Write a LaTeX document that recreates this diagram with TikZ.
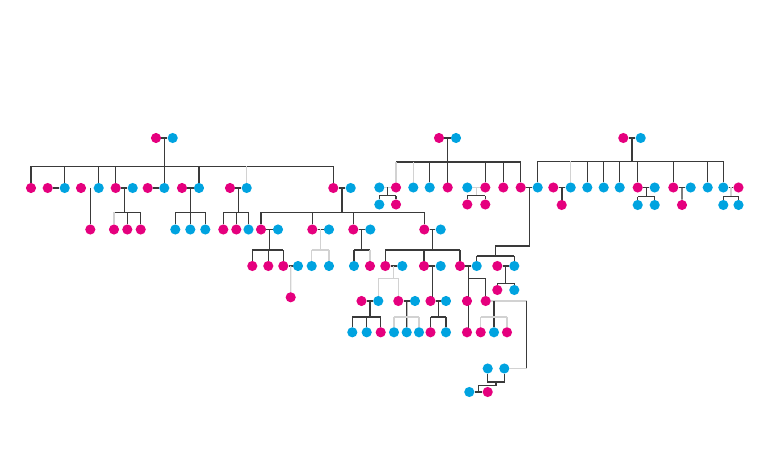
\documentclass[tikz,border=0pt]{standalone}
\usetikzlibrary{calc,backgrounds}
\definecolor{pinkc}{HTML}{E5007E}
\definecolor{bluec}{HTML}{00A3E0}
\definecolor{lnd}{HTML}{3A3A3A}
\definecolor{lnl}{HTML}{D2D2D2}
\tikzset{
  pk/.style={circle,fill=pinkc,draw=none,inner sep=0pt,minimum size=7.6pt},
  bl/.style={circle,fill=bluec,draw=none,inner sep=0pt,minimum size=7.6pt},
  dk/.style={draw=lnd,line width=0.95pt},
  lt/.style={draw=lnl,line width=0.95pt}
}
\newcommand\pd[3]{\node[pk] (#1) at (#2,#3) {};}
\newcommand\bd[3]{\node[bl] (#1) at (#2,#3) {};}
\newcommand\midpt[3]{\coordinate (#1) at ($(#2)!.5!(#3)$);}
\begin{document}
\begin{tikzpicture}[x=0.75pt,y=-0.75pt]
\useasboundingbox (0,0) rectangle (768,473);
% ---------- family A ----------
\pd{a0}{156}{138} \bd{a1}{172.7}{138}
\pd{L1}{31}{188}
\pd{L2}{47.7}{188} \bd{L3}{64.7}{188}
\pd{L4}{81}{188} \bd{L5}{98.7}{188}
\pd{L6}{115.7}{188} \bd{L7}{132.7}{188}
\pd{L8}{147.7}{188} \bd{L9}{164.3}{188}
\pd{L10}{182}{188} \bd{L11}{199}{188}
\pd{L12}{230}{188} \bd{L13}{246.7}{188}
\pd{L14}{333.3}{188} \bd{L15}{350.7}{188}
\pd{K1}{90.3}{229.5}
\pd{K2}{114}{229.5} \pd{K3}{127.3}{229.5} \pd{K4}{140.7}{229.5}
\bd{K5}{175.3}{229.5} \bd{K6}{190.3}{229.5} \bd{K7}{205.3}{229.5}
\pd{K8}{223.3}{229.5} \pd{K9}{236.3}{229.5} \bd{K10}{248.5}{229.5}
\pd{M1}{261}{229.5} \bd{M1s}{278}{229.5}
\pd{M2}{312.3}{229.5} \bd{M2s}{329}{229.5}
\pd{M3}{353.3}{229.5} \bd{M3s}{370.3}{229.5}
\pd{M4}{424.3}{229.5} \bd{M4s}{440.7}{229.5}
\pd{N1}{252.3}{266} \pd{N2}{268.3}{266} \pd{N3}{283.3}{266} \bd{N3s}{298}{266}
\bd{N4}{311.7}{266} \bd{N5}{329}{266}
\bd{N6}{354}{266} \pd{N7}{370}{266}
\pd{N8}{385.3}{266} \bd{N8s}{402.3}{266}
\pd{N9}{424}{266} \bd{N9s}{440.7}{266}
\pd{N10}{460}{266} \bd{N10s}{476.7}{266}
\pd{N11s}{497.3}{266} \bd{N11}{514.3}{266}
\pd{O1}{290.7}{297.3}
\pd{P1s}{361.5}{301} \bd{P1}{378.3}{301}
\pd{P2}{398.3}{301} \bd{P2s}{415}{301}
\pd{P3}{430.5}{301} \bd{P3s}{446}{301}
\pd{P4}{467}{301} \pd{P5}{485.7}{301}
\pd{P6}{497.3}{290} \bd{P7}{514.3}{290}
\bd{S1}{352.3}{332.3} \bd{S2}{366.7}{332.3} \pd{S3}{380.7}{332.3}
\bd{S4}{394}{332.3} \bd{S5}{406.7}{332.3} \bd{S6}{419}{332.3}
\pd{S7}{430.5}{332.3} \bd{S8}{446}{332.3}
\pd{S9}{467}{332.3}
\pd{S10}{480.7}{332.3} \bd{S11}{494}{332.3} \pd{S12}{507}{332.3}
\bd{Q1}{487.7}{368.5} \bd{Q2}{504.3}{368.5}
\bd{R1}{469.3}{392} \pd{R2}{487.7}{392}
% ---------- family B ----------
\pd{b0}{439}{138} \bd{b1}{456}{138}
\bd{B1}{379.3}{187.5} \pd{B2}{396}{187.5} \bd{B3}{413.3}{187.5} \bd{B4}{429.7}{187.5}
\pd{B5}{447.7}{187.5} \bd{B6}{467.3}{187.5} \pd{B7}{485.3}{187.5} \pd{B8}{503.3}{187.5}
\pd{B9}{520.7}{187.5}
\bd{T1}{379.3}{204.5} \pd{T2}{396}{204.5} \pd{T3}{467.3}{204.5} \pd{T4}{485.3}{204.5}
% ---------- family C ----------
\pd{c0}{623.3}{138} \bd{c1}{640.7}{138}
\bd{C1}{537.7}{187.5} \pd{C2}{553.3}{187.5} \bd{C3}{570.7}{187.5} \bd{C4}{587.3}{187.5}
\bd{C5}{603.7}{187.5} \bd{C6}{619.7}{187.5} \pd{C7}{637.7}{187.5} \bd{C8}{654.7}{187.5}
\pd{C9}{673.3}{187.5} \bd{C10}{690.7}{187.5} \bd{C11}{707.7}{187.5}
\bd{C12}{723.3}{187.5} \pd{C13}{738.5}{187.5}
\pd{U1}{561.7}{205} \bd{U2}{637.7}{205} \bd{U3}{654.7}{205} \pd{U4}{682}{205}
\bd{U5}{723.3}{205} \bd{U6}{738.5}{205}
% ---------- bar levels ----------
\coordinate (yA) at (0,166.3);
\coordinate (yB) at (0,212.3);
\coordinate (yC) at (0,250);
\coordinate (yD) at (0,278.3);
\coordinate (yD2) at (0,283.3);
\coordinate (yE) at (0,317);
\coordinate (yF) at (0,382);
\coordinate (yG) at (0,385.5);
\coordinate (yH) at (0,162);
\coordinate (yI) at (0,195.7);
\coordinate (yJ) at (0,246);
\coordinate (yK) at (0,256);
\coordinate (yL) at (0,161.5);
\coordinate (yM) at (0,196.7);
\coordinate (k1) at (526.5,301);
\begin{pgfonlayer}{background}
% family A
\midpt{ma}{a0}{a1}
\draw[dk] (a0) -- (a1); \draw[dk] (ma) -- (ma |- L9);
\draw[dk] (L1 |- yA) -- (L14 |- yA);
\foreach \n in {L1,L3,L5,L6,L11,L14} \draw[dk] (\n) -- (\n |- yA);
\draw[lt] (L13) -- (L13 |- yA);
\foreach \a/\b in {L2/L3,L6/L7,L8/L9,L10/L11,L12/L13,L14/L15,M1/M1s,M2/M2s,M3/M3s,M4/M4s,N3/N3s,N8/N8s,N9/N9s,N10/N10s,N11s/N11,P1s/P1,P2/P2s,P3/P3s,R1/R2,B9/C1,b0/b1,c0/c1,C2/C3,C7/C8,C9/C10,C12/C13}
  \draw[dk] (\a) -- (\b);
\draw[dk] (K1 |- L4) -- (K1);
% L6/L7
\midpt{m67}{L6}{L7}
\draw[dk] (m67) -- (m67 |- yB); \draw[dk] (K2 |- yB) -- (K4 |- yB);
\draw[lt] (K2) -- (K2 |- yB); \draw[dk] (K3) -- (K3 |- yB); \draw[dk] (K4) -- (K4 |- yB);
% L10/L11
\midpt{m1011}{L10}{L11}
\draw[dk] (m1011) -- (m1011 |- yB); \draw[dk] (K5 |- yB) -- (K7 |- yB);
\foreach \n in {K5,K6,K7} \draw[dk] (\n) -- (\n |- yB);
% L12/L13
\midpt{m1213}{L12}{L13}
\draw[dk] (m1213) -- (m1213 |- yB); \draw[dk] (K8 |- yB) -- (K10 |- yB);
\foreach \n in {K8,K9,K10} \draw[dk] (\n) -- (\n |- yB);
% L14/L15
\midpt{m1415}{L14}{L15}
\draw[dk] (m1415) -- (m1415 |- yB); \draw[dk] (M1 |- yB) -- (M4 |- yB);
\foreach \n in {M1,M2,M3,M4} \draw[dk] (\n) -- (\n |- yB);
% M1
\midpt{mM1}{M1}{M1s}
\draw[dk] (mM1) -- (mM1 |- yC); \draw[dk] (N1 |- yC) -- (N3 |- yC);
\foreach \n in {N1,N2,N3} \draw[dk] (\n) -- (\n |- yC);
\midpt{mN3}{N3}{N3s}
\draw[lt] (mN3) -- (O1);
% M2
\midpt{mM2}{M2}{M2s}
\draw[lt] (mM2) -- (mM2 |- yC); \draw[lt] (N4 |- yC) -- (N5 |- yC);
\draw[lt] (N4) -- (N4 |- yC); \draw[lt] (N5) -- (N5 |- yC);
% M3
\midpt{mM3}{M3}{M3s}
\draw[dk] (mM3) -- (mM3 |- yC); \draw[dk] (N6 |- yC) -- (N7 |- yC);
\draw[dk] (N6) -- (N6 |- yC); \draw[lt] (N7) -- (N7 |- yC);
% M4
\midpt{mM4}{M4}{M4s}
\draw[dk] (mM4) -- (mM4 |- yC); \draw[dk] (N8 |- yC) -- (N10 |- yC);
\foreach \n in {N8,N9,N10} \draw[dk] (\n) -- (\n |- yC);
% N8
\midpt{mN8}{N8}{N8s}
\draw[lt] (mN8) -- (mN8 |- yD); \draw[lt] (P1 |- yD) -- (P2 |- yD);
\draw[lt] (P1) -- (P1 |- yD); \draw[lt] (P2) -- (P2 |- yD);
% N9
\midpt{mN9}{N9}{N9s}
\draw[dk] (mN9) -- (mN9 |- P3);
% N10
\midpt{mN10}{N10}{N10s}
\draw[dk] (mN10) -- (mN10 |- S9);
\draw[dk] (mN10 |- yD) -- (P5 |- yD) -- (P5);
% N11
\midpt{mN11}{N11s}{N11}
\draw[dk] (mN11) -- (mN11 |- yD2); \draw[dk] (P6 |- yD2) -- (P7 |- yD2);
\draw[dk] (P6) -- (P6 |- yD2); \draw[dk] (P7) -- (P7 |- yD2);
% P1
\midpt{mP1}{P1s}{P1}
\draw[dk] (mP1) -- (mP1 |- yE); \draw[dk] (S1 |- yE) -- (S3 |- yE);
\foreach \n in {S1,S2,S3} \draw[dk] (\n) -- (\n |- yE);
% P2
\midpt{mP2}{P2}{P2s}
\draw[dk] (mP2) -- (S5); \draw[lt] (S4 |- yE) -- (S6 |- yE);
\draw[lt] (S4) -- (S4 |- yE); \draw[lt] (S6) -- (S6 |- yE);
% P3
\midpt{mP3}{P3}{P3s}
\draw[dk] (mP3) -- (mP3 |- yE); \draw[dk] (S7 |- yE) -- (S8 |- yE);
\draw[dk] (S7) -- (S7 |- yE); \draw[dk] (S8) -- (S8 |- yE);
% P5
\draw[lt] (P5) -- (k1);
\draw[dk] (S11 |- P5) -- (S11);
\draw[lt] (S10 |- yE) -- (S12 |- yE);
\draw[lt] (S10) -- (S10 |- yE); \draw[lt] (S12) -- (S12 |- yE);
\draw[dk] (k1) -- (k1 |- Q2);
\draw[lt] (k1 |- Q2) -- (Q2);
% Q1/Q2
\midpt{mQ}{Q1}{Q2}
\midpt{mR}{R1}{R2}
\draw[dk] (Q1) -- (Q1 |- yF) -- (Q2 |- yF) -- (Q2);
\draw[dk] (mQ |- yF) -- (mQ |- yG) -- (mR |- yG) -- (mR);
% family B
\midpt{mb}{b0}{b1}
\draw[dk] (mb) -- (mb |- B5);
\draw[dk] (B2 |- yH) -- (B9 |- yH);
\draw[lt] (B2) -- (B2 |- yH); \draw[lt] (B3) -- (B3 |- yH);
\foreach \n in {B4,B7,B8,B9} \draw[dk] (\n) -- (\n |- yH);
\draw[lt] (B1) -- (B2);
\midpt{mB1}{B1}{B2}
\draw[dk] (mB1) -- (mB1 |- yI); \draw[dk] (T1 |- yI) -- (T2 |- yI);
\draw[dk] (T1) -- (T1 |- yI); \draw[dk] (T2) -- (T2 |- yI);
\draw[lt] (B6) -- (B7);
\midpt{mB6}{B6}{B7}
\draw[lt] (mB6) -- (mB6 |- yI); \draw[dk] (T3 |- yI) -- (T4 |- yI);
\draw[dk] (T3) -- (T3 |- yI); \draw[dk] (T4) -- (T4 |- yI);
\midpt{mB9}{B9}{C1}
\midpt{mN1011}{N10s}{N11}
\draw[dk] (mB9) -- (mB9 |- yJ) -- (mN1011 |- yJ) -- (mN1011 |- yK);
\draw[dk] (N10s |- yK) -- (N11 |- yK);
\draw[dk] (N10s) -- (N10s |- yK); \draw[dk] (N11) -- (N11 |- yK);
% family C
\midpt{mc}{c0}{c1}
\draw[dk] (mc) -- (mc |- yL);
\draw[dk] (C1 |- yL) -- (C12 |- yL);
\foreach \n in {C1,C4,C5,C6,C7,C9,C11,C12} \draw[dk] (\n) -- (\n |- yL);
\draw[lt] (C3) -- (C3 |- yL);
\midpt{mC2}{C2}{C3}
\draw[dk] (mC2) -- (mC2 |- U1);
\midpt{mC7}{C7}{C8}
\draw[dk] (mC7) -- (mC7 |- yM); \draw[dk] (U2 |- yM) -- (U3 |- yM);
\draw[dk] (U2) -- (U2 |- yM); \draw[dk] (U3) -- (U3 |- yM);
\midpt{mC9}{C9}{C10}
\draw[dk] (mC9) -- (U4);
\midpt{mC12}{C12}{C13}
\draw[lt] (mC12) -- (mC12 |- yM); \draw[dk] (U5 |- yM) -- (U6 |- yM);
\draw[dk] (U5) -- (U5 |- yM); \draw[dk] (U6) -- (U6 |- yM);
\end{pgfonlayer}
\end{tikzpicture}
\end{document}
